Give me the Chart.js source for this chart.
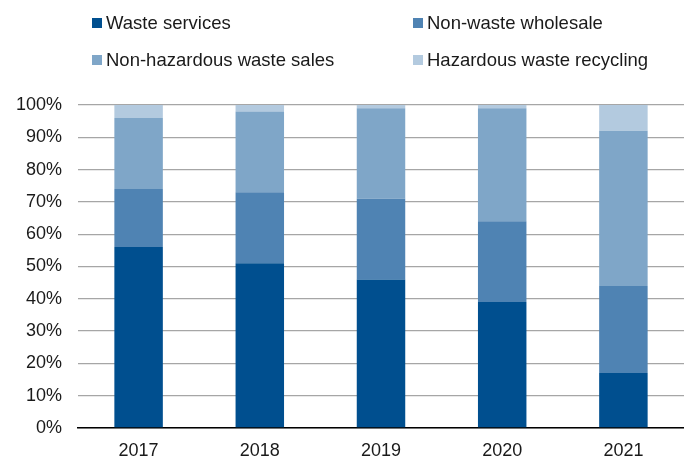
<!DOCTYPE html>
<html>
<head>
<meta charset="utf-8">
<script src="https://cdn.jsdelivr.net/npm/chart.js@4"></script>
<style>
  html, body { margin: 0; padding: 0; background: #fff; }
  #wrap { width: 684px; height: 459px; }
</style>
</head>
<body>
<div id="wrap"><canvas id="shareChart" width="684" height="459"></canvas></div>
<script>
const years = ['2017', '2018', '2019', '2020', '2021'];
const wasteServices = [56, 51, 46, 39, 17];
const nonWasteWholesale = [18, 22, 25, 25, 27];
const nonHazardousSales = [22, 25, 28, 35, 48];
const hazardousRecycling = [4, 2, 1, 1, 8];
const yTicks = [0, 10, 20, 30, 40, 50, 60, 70, 80, 90, 100];

const seriesNames = ['Waste services', 'Non-waste wholesale', 'Non-hazardous waste sales', 'Hazardous waste recycling'];
const seriesColors = ['#004f8f', '#4f83b3', '#7fa6c8', '#b3cadf'];
const seriesData = [wasteServices, nonWasteWholesale, nonHazardousSales, hazardousRecycling];

const fontFam = '"Liberation Sans", Arial, sans-serif';

// legend in two columns like the original
const twoColLegend = {
    id: 'twoColLegend',
    afterDraw(chart) {
        const ctx = chart.ctx;
        const cols = [92, 413];
        const rows = [23, 60];
        ctx.save();
        ctx.font = '18.5px ' + fontFam;
        ctx.textBaseline = 'middle';
        seriesNames.forEach((name, i) => {
            const x = cols[i % 2];
            const y = rows[Math.floor(i / 2)];
            ctx.fillStyle = seriesColors[i];
            ctx.fillRect(x, y - 5, 10, 10);
            ctx.fillStyle = '#1a1a1a';
            ctx.fillText(name, x + 14, y + 1);
        });
        ctx.restore();
    }
};

const ctx = document.getElementById('shareChart').getContext('2d');
new Chart(ctx, {
    type: 'bar',
    data: {
        labels: years,
        datasets: seriesNames.map((name, i) => ({
            label: name,
            data: seriesData[i],
            backgroundColor: seriesColors[i],
            borderWidth: 0,
            barPercentage: 0.4,
            categoryPercentage: 1
        }))
    },
    options: {
        responsive: false,
        animation: false,
        layout: { padding: { top: 105, right: 0, left: 0, bottom: 0 } },
        plugins: {
            legend: { display: false },
            tooltip: { enabled: false }
        },
        scales: {
            x: {
                stacked: true,
                grid: { display: false },
                border: { display: true, color: '#000', width: 1.5 },
                ticks: {
                    color: '#1a1a1a',
                    font: { family: fontFam, size: 18 },
                    padding: 4
                },
                afterFit(scale) { scale.height = 31; }
            },
            y: {
                stacked: true,
                min: 0,
                max: 100,
                afterBuildTicks(scale) { scale.ticks = yTicks.map(v => ({ value: v })); },
                grid: { color: '#a6a6a6', lineWidth: 1.3, drawTicks: false },
                border: { display: false },
                ticks: {
                    color: '#1a1a1a',
                    font: { family: fontFam, size: 18 },
                    padding: 16,
                    callback: v => v + '%'
                },
                afterFit(scale) { scale.width = 78; }
            }
        }
    },
    plugins: [twoColLegend]
});
</script>
</body>
</html>
